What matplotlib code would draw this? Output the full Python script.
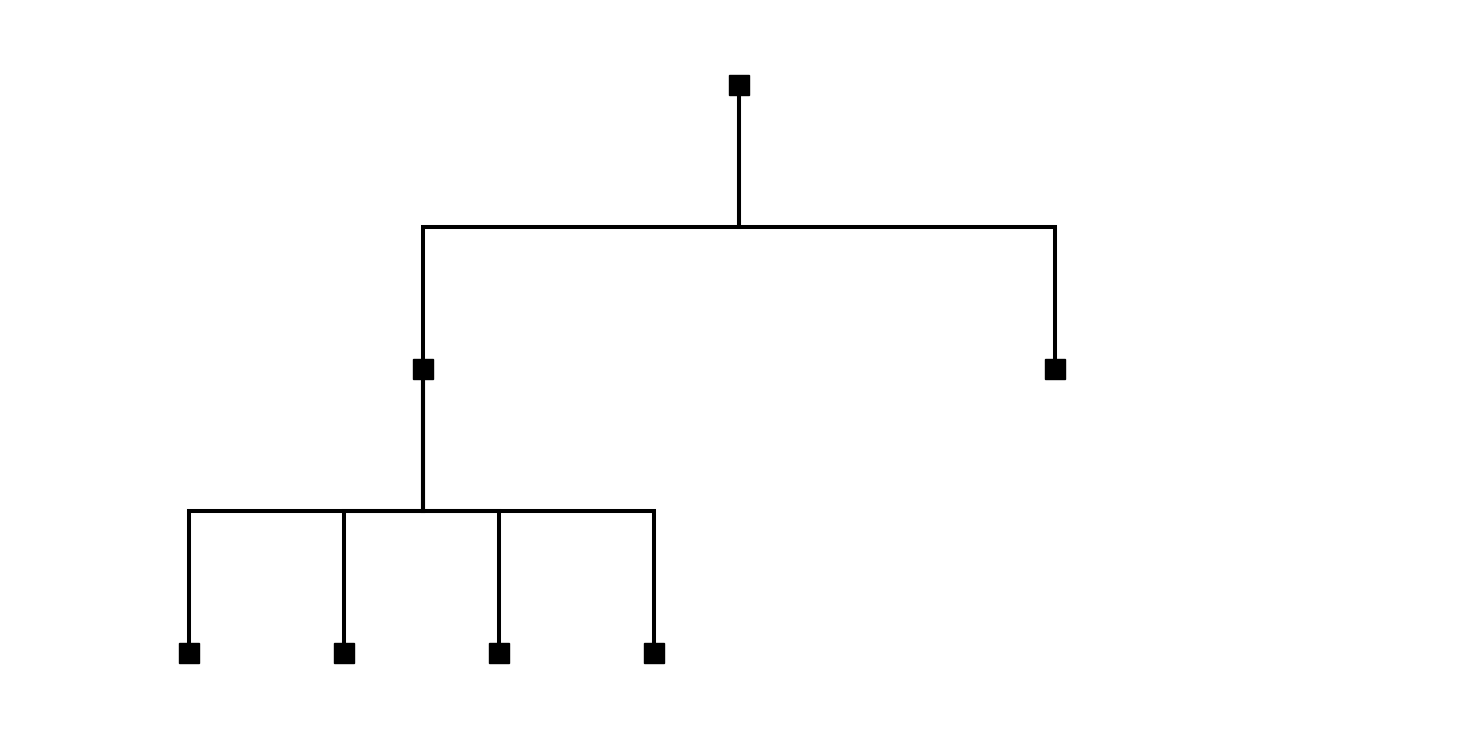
import matplotlib.pyplot as plt

# tree nodes: name, parent, x position, depth level
names = ["root", "a", "b", "a1", "a2", "a3", "a4"]
parents = [None, "root", "root", "a", "a", "a", "a"]
node_x = [739, 423, 1055, 189, 344, 499, 654]
depth = [0, 1, 1, 2, 2, 2, 2]

level_y = [85, 369, 653]

fig = plt.figure(figsize=(14.76, 7.45), dpi=100)
ax = fig.add_axes([0, 0, 1, 1])
ax.set_xlim(0, 1476)
ax.set_ylim(745, 0)
ax.axis("off")

pos = {n: (x, level_y[d]) for n, x, d in zip(names, node_x, depth)}

# elbow connectors
for n, p in zip(names, parents):
    if p is None:
        continue
    px, py = pos[p]
    cx, cy = pos[n]
    mid = (py + cy) / 2
    ax.plot([px, px, cx, cx], [py, mid, mid, cy], color="black", lw=2.9,
            solid_joinstyle="miter", zorder=1)

for n in names:
    x, y = pos[n]
    ax.plot(x, y, marker="s", ms=14, color="black", zorder=2)

fig.savefig("out.png", dpi=100)
